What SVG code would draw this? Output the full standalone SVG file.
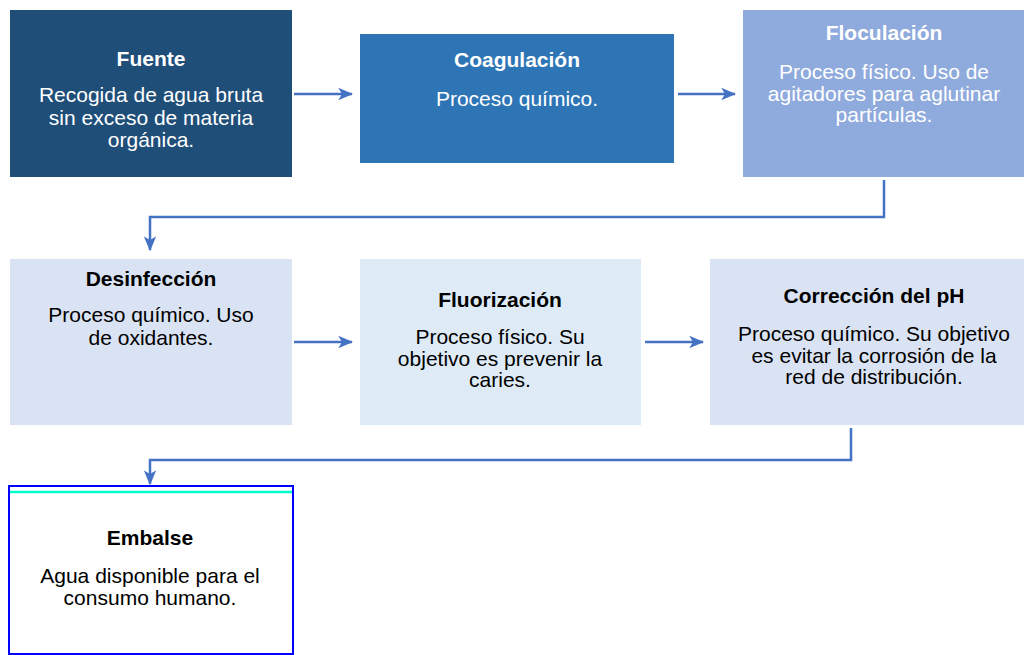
<svg xmlns="http://www.w3.org/2000/svg" width="1024" height="655" viewBox="0 0 1024 655">
<defs>
<marker id="ah" viewBox="0 0 12 10" refX="11" refY="5" markerWidth="6" markerHeight="5" orient="auto" markerUnits="strokeWidth">
<path d="M0,0 L12,5 L0,10 L3,5 z" fill="#4472C4"/>
</marker>
<style>
text{font-family:"Liberation Sans",Arial,sans-serif;font-size:21px;text-anchor:middle}
.t{font-weight:bold}
.w{fill:#FFFFFF}
.k{fill:#000000}
.c{fill:none;stroke:#4472C4;stroke-width:2.5}
</style>
</defs>
<rect width="1024" height="655" fill="#FFFFFF"/>
<g id="fuente">
<rect x="10" y="10" width="282" height="167" fill="#1F4E79"/>
<text class="t w" x="151" y="66">Fuente</text>
<text class="w" x="151" y="102">Recogida de agua bruta</text>
<text class="w" x="151" y="124.5">sin exceso de materia</text>
<text class="w" x="151" y="147">orgánica.</text>
</g>
<g id="coagulacion">
<rect x="360" y="34" width="314" height="129" fill="#2E75B6"/>
<text class="t w" x="517" y="67">Coagulación</text>
<text class="w" x="517" y="106">Proceso químico.</text>
</g>
<g id="floculacion">
<rect x="743" y="10" width="282" height="167" fill="#8FAADC"/>
<text class="t w" x="884" y="40">Floculación</text>
<text class="w" x="884" y="79">Proceso físico. Uso de</text>
<text class="w" x="884" y="100.5">agitadores para aglutinar</text>
<text class="w" x="884" y="122">partículas.</text>
</g>
<g id="desinfeccion">
<rect x="10" y="259" width="282" height="166" fill="#DAE3F3"/>
<text class="t k" x="151" y="286">Desinfección</text>
<text class="k" x="151" y="322">Proceso químico. Uso</text>
<text class="k" x="151" y="344.5">de oxidantes.</text>
</g>
<g id="fluorizacion">
<rect x="360" y="259" width="281" height="166" fill="#DEEBF7"/>
<text class="t k" x="500" y="307">Fluorización</text>
<text class="k" x="500" y="344">Proceso físico. Su</text>
<text class="k" x="500" y="365.5">objetivo es prevenir la</text>
<text class="k" x="500" y="387">caries.</text>
</g>
<g id="correccion">
<rect x="710" y="259" width="314" height="166" fill="#DAE3F3"/>
<text class="t k" x="874" y="303">Corrección del pH</text>
<text class="k" x="874" y="341">Proceso químico. Su objetivo</text>
<text class="k" x="874" y="362.5">es evitar la corrosión de la</text>
<text class="k" x="874" y="384">red de distribución.</text>
</g>
<g id="embalse">
<rect x="9" y="486" width="284" height="168" fill="#FFFFFF" stroke="#0000FF" stroke-width="2"/>
<line x1="10" y1="492" x2="292" y2="492" stroke="#00FFCC" stroke-width="2.5"/>
<text class="t k" x="150" y="545">Embalse</text>
<text class="k" x="150" y="583">Agua disponible para el</text>
<text class="k" x="150" y="604.5">consumo humano.</text>
</g>
<g id="connectors">
<line class="c" x1="294" y1="94" x2="352" y2="94" marker-end="url(#ah)"/>
<line class="c" x1="678" y1="94" x2="735" y2="94" marker-end="url(#ah)"/>
<polyline class="c" points="884,180 884,217 150,217 150,250" marker-end="url(#ah)"/>
<line class="c" x1="294" y1="342" x2="352" y2="342" marker-end="url(#ah)"/>
<line class="c" x1="645" y1="342" x2="703" y2="342" marker-end="url(#ah)"/>
<polyline class="c" points="851,428 851,460 150,460 150,484" marker-end="url(#ah)"/>
</g>
</svg>
